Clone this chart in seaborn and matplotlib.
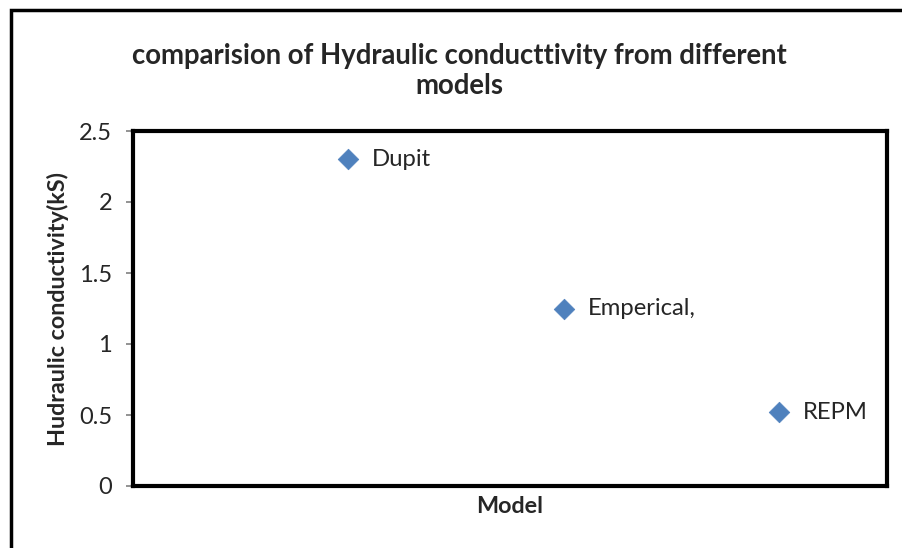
import matplotlib
matplotlib.use("Agg")
import matplotlib.pyplot as plt
import seaborn as sns
import pandas as pd
from matplotlib.patches import Rectangle

models = ["Dupit", "Emperical,", "REPM"]
model_pos = [1, 2, 3]
conductivity = [2.3, 1.25, 0.52]
y_ticks = [0, 0.5, 1, 1.5, 2, 2.5]
y_tick_labels = ["0", "0.5", "1", "1.5", "2", "2.5"]

df = pd.DataFrame({"pos": model_pos, "k": conductivity, "model": models})

sns.set_style("white")
plt.rcParams["font.family"] = ["Lato", "DejaVu Sans"]

fig = plt.figure(figsize=(9.03, 5.48), dpi=100)
ax = fig.add_axes([133 / 903, 1 - 486 / 548, (887 - 133) / 903, (486 - 131) / 548])

sns.scatterplot(data=df, x="pos", y="k", marker="D", s=110, color="#4F81BD",
                edgecolor="#4F81BD", linewidth=0.5, ax=ax, zorder=3)

for _, row in df.iterrows():
    ax.annotate(row["model"], (row["pos"], row["k"]), xytext=(17, 0),
                textcoords="offset points", va="center", ha="left", fontsize=17.2)

ax.set_xlim(0, 3.5)
ax.set_ylim(0, 2.5)
ax.set_xticks([])
ax.set_yticks(y_ticks)
ax.set_yticklabels(y_tick_labels, fontsize=17)
ax.tick_params(axis="y", left=True, length=5, width=1.2, color="#808080", pad=10)
for sp in ax.spines.values():
    sp.set_visible(True)
    sp.set_color("black")
    sp.set_linewidth(3)

ax.set_xlabel("Model", fontsize=16.8, fontweight="bold", labelpad=7)
ax.set_ylabel("Hudraulic conductivity(kS)", fontsize=16.8, fontweight="bold", labelpad=7)

fig.text(459 / 903, 1 - 71 / 548, "comparision of Hydraulic conducttivity from different\nmodels",
         ha="center", va="center", fontsize=19.8, fontweight="bold", linespacing=1.22)

# outer chart border (cut off on right and bottom)
fig.patches.append(Rectangle((11 / 903, -0.05), 1.0, 1 - 9.5 / 548 + 0.05,
                             transform=fig.transFigure, fill=False,
                             edgecolor="black", linewidth=2.5))

fig.savefig("out.png", dpi=100)
